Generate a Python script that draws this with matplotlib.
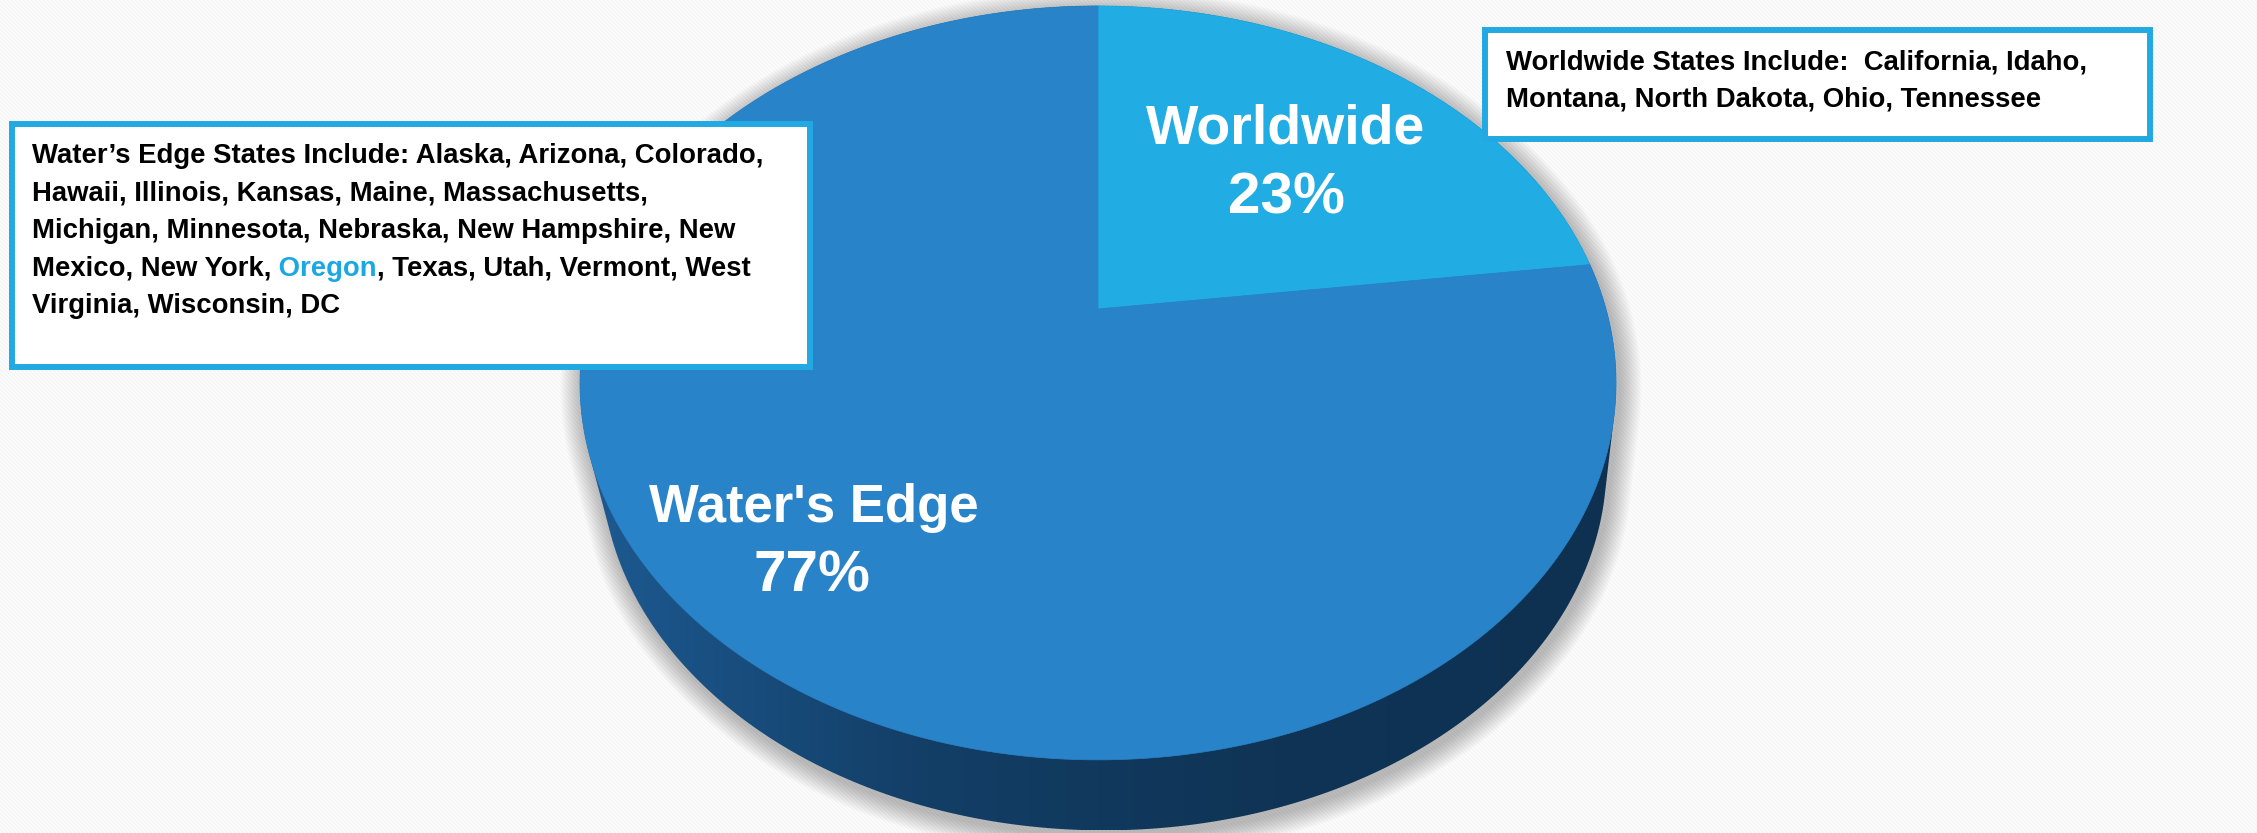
import numpy as np
import matplotlib.pyplot as plt
from matplotlib.patches import Polygon, Rectangle
from matplotlib.collections import LineCollection
from matplotlib.colors import LinearSegmentedColormap

# data
labels = ["Worldwide", "Water's Edge"]
shares = [23, 77]
top_colors = ["#21ace3", "#2983c8"]
pct_labels = ["23%", "77%"]

left_lines = ["Water\u2019s Edge States Include: Alaska, Arizona, Colorado,",
              "Hawaii, Illinois, Kansas, Maine, Massachusetts,",
              "Michigan, Minnesota, Nebraska, New Hampshire, New",
              None,
              "Virginia, Wisconsin, DC"]
line4 = ["Mexico, New York,", " Oregon", ", Texas, Utah, Vermont, West"]
line4_colors = ["black", "#1aa8e3", "black"]
right_lines = ["Worldwide States Include:  California, Idaho,",
               "Montana, North Dakota, Ohio, Tennessee"]

W, H = 2257, 833
fig = plt.figure(figsize=(W / 100, H / 100), dpi=100)
ax = fig.add_axes([0, 0, 1, 1])
ax.set_xlim(0, W)
ax.set_ylim(H, 0)
ax.axis("off")
fig.patch.set_facecolor("#fdfdfd")

# striped background
x0s = np.arange(-H, W, 4)
segs = [[(x, 0), (x + H, H)] for x in x0s]
ax.add_collection(LineCollection(segs, colors="#f1f1f1", linewidths=0.7, zorder=0))

# perspective pie geometry
cx, cy = 1098, 309
A, B, k = 508, 362.5, 0.196


def project(theta, drop=0.0, shrink=1.0, dx=0.0):
    u = np.cos(theta)
    v = np.sin(theta)
    w = 1 + k * v
    return cx + dx + A * shrink * u / w, cy + drop - B * shrink * v / w


def hull(pts):
    pts = sorted(set(map(tuple, pts)))
    lower, upper = [], []
    for p in pts:
        while len(lower) >= 2 and np.cross(np.subtract(lower[-1], lower[-2]), np.subtract(p, lower[-2])) <= 0:
            lower.pop()
        lower.append(p)
    for p in reversed(pts):
        while len(upper) >= 2 and np.cross(np.subtract(upper[-1], upper[-2]), np.subtract(p, upper[-2])) <= 0:
            upper.pop()
        upper.append(p)
    return np.array(lower[:-1] + upper[:-1])


t = np.linspace(0, 2 * np.pi, 720, endpoint=False)
tx, ty = project(t)
bx, by = project(t, drop=84, shrink=0.97, dx=6)
body = hull(np.round(np.column_stack([np.r_[tx, bx], np.r_[ty, by]]), 2))

# soft shadow
bc = body.mean(axis=0)
for i in range(14, 0, -1):
    sc = body + (body - bc) / np.linalg.norm(body - bc, axis=1)[:, None] * i * 1.6 + [3, 5]
    ax.add_patch(Polygon(sc, closed=True, facecolor="black", edgecolor="none", alpha=0.018, zorder=1))

# side with gradient
side = Polygon(body, closed=True, facecolor="none", edgecolor="none", zorder=2)
ax.add_patch(side)
cmap = LinearSegmentedColormap.from_list("side", ["#1d5a92", "#133e66", "#0f3455", "#0e3152"])
grad = np.linspace(0, 1, 256)[None, :]
im = ax.imshow(grad, cmap=cmap, aspect="auto", zorder=2,
               extent=[body[:, 0].min(), body[:, 0].max(), body[:, 1].max(), body[:, 1].min()])
im.set_clip_path(side)
ax.set_xlim(0, W)
ax.set_ylim(H, 0)

# top face slices
start = np.pi / 2
for share, col in zip(shares, top_colors):
    span = share / sum(shares) * 2 * np.pi
    th = np.linspace(start, start - span, 300)
    px, py = project(th)
    poly = np.column_stack([np.r_[cx, px], np.r_[cy, py]])
    ax.add_patch(Polygon(poly, closed=True, facecolor=col, edgecolor=col, lw=0.5, zorder=3))
    start -= span

# slice labels
lab_font = dict(family="Liberation Sans", weight="bold", color="white", zorder=4, ha="center", va="baseline")
ax.text(1286, 143, labels[0], fontsize=40, **lab_font)
ax.text(1286, 213, pct_labels[0], fontsize=42, **lab_font)
ax.text(814, 522, labels[1], fontsize=38, **lab_font)
ax.text(812, 592, pct_labels[1], fontsize=42, **lab_font)

# text boxes
box_col = "#22a9e1"
ax.add_patch(Rectangle((12, 124), 798, 243, facecolor="white", edgecolor=box_col, lw=4.3, zorder=5))
ax.add_patch(Rectangle((1485, 30), 665, 109, facecolor="white", edgecolor=box_col, lw=4.3, zorder=5))

box_font = dict(family="Liberation Sans", weight="bold", fontsize=19.8, zorder=6)
for i, line in enumerate(left_lines):
    yb = 163 + i * 37.5
    if line is None:
        prev = ax.text(32, yb, line4[0], color=line4_colors[0], va="baseline", **box_font)
        for piece, col in zip(line4[1:], line4_colors[1:]):
            prev = ax.annotate(piece, xy=(1, 0), xycoords=prev, va="bottom", color=col, **box_font)
    else:
        ax.text(32, yb, line, color="black", va="baseline", **box_font)

for i, line in enumerate(right_lines):
    ax.text(1506, 69 + i * 37, line, color="black", va="baseline", **box_font)

fig.savefig("out.png", dpi=100, facecolor=fig.get_facecolor())
